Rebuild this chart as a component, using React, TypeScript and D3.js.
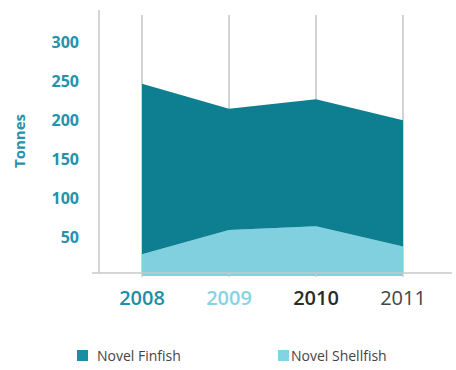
import React from "react";
import * as d3 from "d3";

const years = ["2008", "2009", "2010", "2011"];
const finfish = [219, 156, 163, 162];
const shellfish = [28, 59, 64, 38];
const yTicks = [50, 100, 150, 200, 250, 300];
const seriesNames = ["Novel Finfish", "Novel Shellfish"];
const yearColors = ["#1b8ea5", "#86d3e3", "#2b2b2b", "#444444"];

const W = 456, H = 370;
const FONT = "'Open Sans', 'Noto Sans', sans-serif";

export default function App() {
  const x = d3.scalePoint<string>().domain(years).range([142, 403]);
  const y = d3.scaleLinear().domain([0, 300]).range([276, 42.5]);
  const rows = years.map((yr, i) => ({ yr, finfish: finfish[i], shellfish: shellfish[i] }));
  const stack = d3.stack<any>().keys(["shellfish", "finfish"])(rows);
  const area = d3.area<any>()
    .x((d) => x(d.data.yr) as number)
    .y0((d) => y(d[0]))
    .y1((d) => y(d[1]));
  const colors: Record<string, string> = { shellfish: "#80d0df", finfish: "#0d7f90" };
  const baseY = 273;
  return (
    <svg width={W} height={H} style={{ position: "absolute", left: 0, top: 0, background: "#fff" }}>
      <line x1={99} x2={99} y1={10} y2={baseY} stroke="#c8c8c8" strokeWidth={1.5} />
      {years.map((yr) => (
        <line key={yr} x1={x(yr)} x2={x(yr)} y1={15} y2={baseY} stroke="#c4c4c4" strokeWidth={1.5} />
      ))}
      {stack.map((s) => (
        <path key={s.key} d={area(s as any) || ""} fill={colors[s.key]} />
      ))}
      <line x1={92} x2={452} y1={baseY} y2={baseY} stroke="#c8c8c8" strokeWidth={1.5} />
      {years.map((yr) => (
        <line key={"t" + yr} x1={x(yr)} x2={x(yr)} y1={baseY} y2={baseY + 4} stroke="#c8c8c8" strokeWidth={1.2} />
      ))}
      {yTicks.map((t) => (
        <text key={t} x={79} y={y(t)} dy="0.35em" textAnchor="end" fill="#2592ad"
          fontFamily={FONT} fontWeight={700} fontSize={16}>{t}</text>
      ))}
      <text transform="translate(25,141) rotate(-90)" textAnchor="middle" fill="#2592ad"
        fontFamily={FONT} fontWeight={700} fontSize={15}>Tonnes</text>
      {years.map((yr, i) => (
        <text key={"l" + yr} x={x(yr)} y={305} textAnchor="middle" fill={yearColors[i]}
          fontFamily={FONT} fontWeight={i === 3 ? 400 : 600} fontSize={20}>{yr}</text>
      ))}
      <rect x={77} y={350} width={11} height={11} fill="#188fa3" />
      <text x={97} y={361} fill="#444" fontFamily={FONT} fontSize={14}>{seriesNames[0]}</text>
      <rect x={278} y={350} width={11} height={11} fill="#84d3e4" />
      <text x={291} y={361} fill="#444" fontFamily={FONT} fontSize={14}>{seriesNames[1]}</text>
    </svg>
  );
}
